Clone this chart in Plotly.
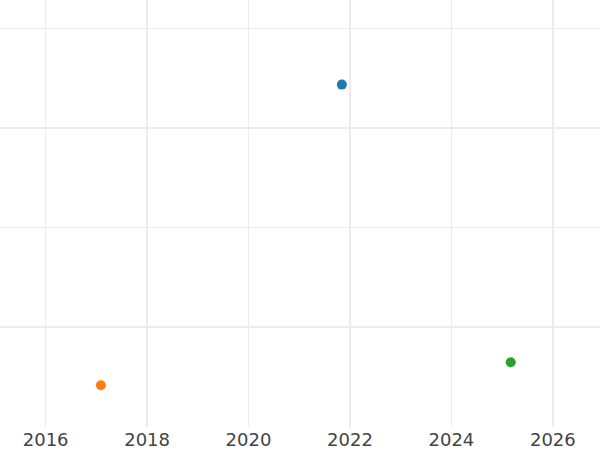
import plotly.graph_objects as go

names = ["A", "B", "C"]
x_vals = [2021.84, 2017.09, 2025.17]
y_vals = [2.44, -0.58, -0.35]
colors = ["#1f77b4", "#ff7f0e", "#2ca02c"]

fig = go.Figure()
for n, x, y, c in zip(names, x_vals, y_vals, colors):
    fig.add_trace(go.Scatter(x=[x], y=[y], mode="markers", name=n,
                             marker=dict(color=c, size=10), showlegend=False))
# invisible trace for overlay axis
fig.add_trace(go.Scatter(x=[x_vals[0]], y=[y_vals[0]], xaxis="x2", mode="markers",
                         marker=dict(opacity=0), showlegend=False, hoverinfo="skip"))

xr = [2015.1, 2026.93]
grid = "#ebebeb"
fig.update_layout(
    width=600, height=450,
    margin=dict(l=0, r=0, t=0, b=23),
    plot_bgcolor="white", paper_bgcolor="white",
    font=dict(family="DejaVu Sans", size=18, color="#444"),
    xaxis=dict(range=xr, tick0=2016, dtick=2, showgrid=True, gridcolor=grid, gridwidth=1,
               zeroline=False, showline=False, ticks="", tickformat="d"),
    xaxis2=dict(range=xr, overlaying="x", tick0=2018, dtick=4, showgrid=True, gridcolor=grid,
                gridwidth=2, showticklabels=False, zeroline=False, ticks=""),
    yaxis=dict(range=[-1, 3.29], tick0=0, dtick=2, showgrid=True, gridcolor=grid, gridwidth=2,
               showticklabels=False, zeroline=False, ticks="",
               minor=dict(dtick=1, tick0=0, showgrid=True, gridcolor=grid, gridwidth=1)),
)
fig.write_html("out.html", config={"displayModeBar": False},
               post_script="document.body.style.margin='0';document.body.style.padding='0';")
